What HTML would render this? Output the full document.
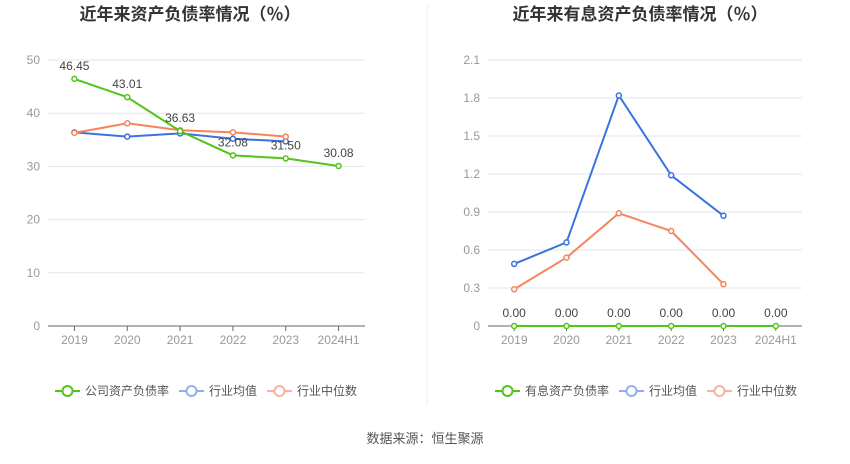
<!DOCTYPE html>
<html><head><meta charset="utf-8"><style>
body{margin:0;background:#fff;font-family:"Liberation Sans","Noto Sans CJK SC",sans-serif}
svg text{font-family:"Liberation Sans","Noto Sans CJK SC",sans-serif}
</style></head><body>
<svg id="s" width="850" height="459">
<text x="190" y="20" text-anchor="middle" font-size="17" font-weight="bold" fill="#333">近年来资产负债率情况（％）</text>
<text x="640" y="20" text-anchor="middle" font-size="17" font-weight="bold" fill="#333">近年来有息资产负债率情况（％）</text>
<line x1="427" y1="5" x2="427" y2="405" stroke="#eee"/>
<text x="425" y="443" text-anchor="middle" font-size="13" fill="#555">数据来源：恒生聚源</text>
<g id="L"></g><g id="R"></g>
</svg>
<script>
const cats=["2019","2020","2021","2022","2023","2024H1"];
const leftCompany=[46.45,43.01,36.63,32.08,31.50,30.08];
const leftAvg=[36.4,35.6,36.2,35.2,34.7];
const leftMedian=[36.3,38.1,36.8,36.4,35.6];
const leftTicks=[0,10,20,30,40,50];
const rightCompany=[0,0,0,0,0,0];
const rightAvg=[0.49,0.66,1.82,1.19,0.87];
const rightMedian=[0.29,0.54,0.89,0.75,0.33];
const rightTicks=["0","0.3","0.6","0.9","1.2","1.5","1.8","2.1"];
const NS="http://www.w3.org/2000/svg";
function mk(p,t,a){const e=document.createElementNS(NS,t);for(const k in a)e.setAttribute(k,a[k]);p.appendChild(e);return e;}
function chart(g,x0,x1,ymax,ticks,comp,avg,med,legend0,name){
 const y0=326,yt=60,bw=(x1-x0)/cats.length;
 const X=i=>x0+bw*(i+0.5),Y=v=>y0-(v/ymax)*(y0-yt);
 ticks.forEach(t=>{const v=parseFloat(t);
  const l=mk(g,"line",{x1:x0,x2:x1,y1:Y(v),y2:Y(v),stroke:v==0?"#666":"#e0e6f1"});
  
  
  const tx=mk(g,"text",{x:x0-8,y:Y(v)+4,"text-anchor":"end","font-size":12,fill:"#999"});tx.textContent=t;
  
  });
 cats.forEach((c,i)=>{const tk=mk(g,"line",{x1:X(i),x2:X(i),y1:y0,y2:y0+5,stroke:"#666"});
  
  
  const tx=mk(g,"text",{x:X(i),y:y0+18,"text-anchor":"middle","font-size":12,fill:"#999"});tx.textContent=c;
  
  });
 const ser=[[avg,"#3a73e0","industry-average"],[med,"#f7855a","industry-median"],[comp,"#52c41a","company"]];
 ser.forEach(([d,col,nm])=>{
  const pl=mk(g,"polyline",{points:d.map((v,i)=>X(i)+","+Y(v)).join(" "),fill:"none",stroke:col,"stroke-width":2});
  
  
  d.forEach((v,i)=>{const c=mk(g,"circle",{cx:X(i),cy:Y(v),r:2.5,fill:"#fff",stroke:col,"stroke-width":1.5});
   
   });
 });
 comp.forEach((v,i)=>{const tx=mk(g,"text",{x:X(i),y:Y(v)-9,"text-anchor":"middle","font-size":12,fill:"#444"});tx.textContent=v.toFixed(2);
  
  });
 const lg=[[legend0,"#52c41a"],["行业均值","#8fb0ef"],["行业中位数","#f9b39a"]];
 let lx=x0+7;
 lg.forEach(([t,col])=>{
  const ln=mk(g,"line",{x1:lx,x2:lx+25,y1:391,y2:391,stroke:col,"stroke-width":2});
  
  
  const c=mk(g,"circle",{cx:lx+12.5,cy:391,r:5,fill:"#fff",stroke:col,"stroke-width":2});
  
  
  const tx=mk(g,"text",{x:lx+30,y:395,"font-size":12,fill:"#555"});tx.textContent=t;
  
  
  lx+=30+t.length*12+10;
 });
}
chart(document.getElementById("L"),48,365,50,leftTicks.map(String),leftCompany,leftAvg,leftMedian,"公司资产负债率","left");
chart(document.getElementById("R"),488,802,2.1,rightTicks,rightCompany,rightAvg,rightMedian,"有息资产负债率","right");
</script>
</body></html>
